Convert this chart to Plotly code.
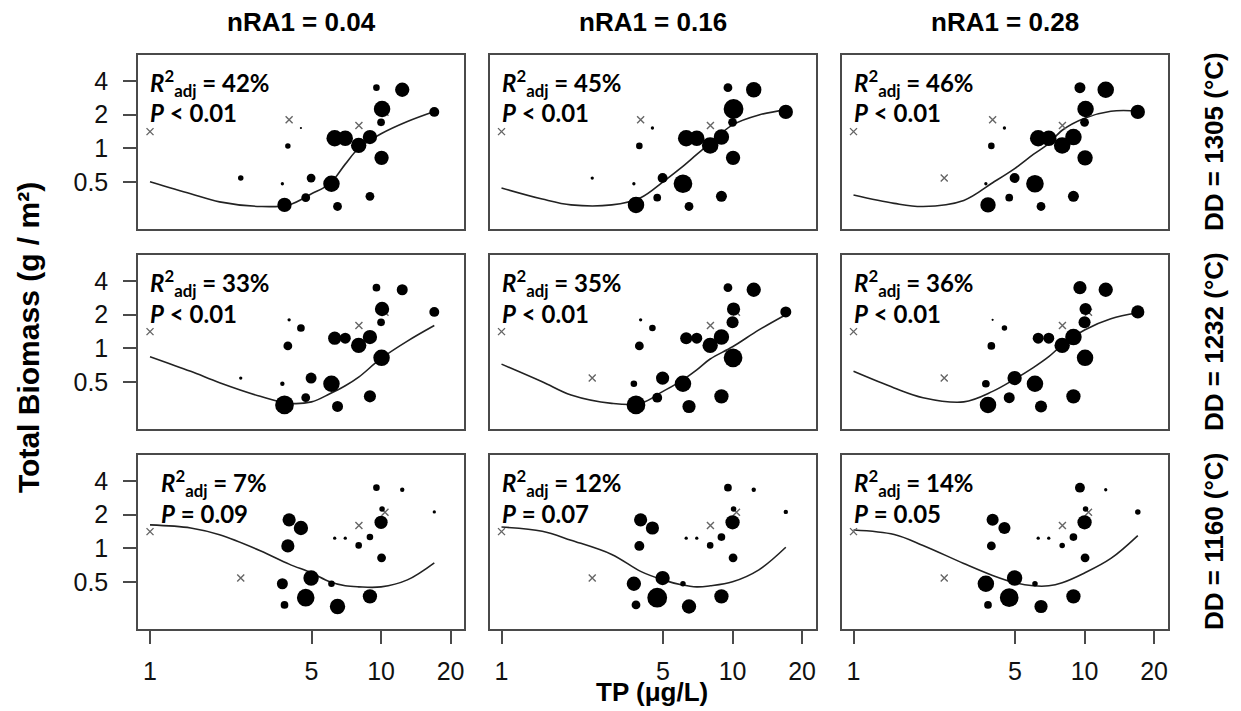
import plotly.graph_objects as go

# ---------------- data ----------------
COL_TITLES = ["nRA1 = 0.04", "nRA1 = 0.16", "nRA1 = 0.28"]
ROW_TITLES = ["DD = 1305 (°C)", "DD = 1232 (°C)", "DD = 1160 (°C)"]

TP = [1.0, 2.47, 4.0, 4.5, 3.95, 3.74, 3.82, 4.72, 4.98, 6.1, 6.48, 6.3,
      7.0, 8.0, 8.95, 8.02, 8.95, 9.55, 10.1, 10.0, 10.05, 12.35, 17.0, 10.4]
BIOMASS = [1.41, 0.54, 1.8, 1.52, 1.05, 0.48, 0.31, 0.36, 0.54, 0.48, 0.30, 1.23,
           1.23, 1.06, 1.26, 1.6, 0.37, 3.5, 2.25, 1.71, 0.82, 3.35, 2.12, 2.1]

# point weights per panel (0 = zero weight, drawn as a cross)
W_R1C1 = [0, 5, 0, 2, 5, 3, 13, 8, 8, 15, 8, 15, 14, 14, 13, 0, 8, 6, 15, 7, 13, 13, 9, 0]
W_R1C2 = [0, 3, 0, 3, 6, 3, 15, 7, 9, 17, 8, 15, 14, 15, 14, 0, 10, 8, 18, 8, 13, 14, 13, 0]
W_R1C3 = [0, 0, 0, 3, 6, 3, 14, 7, 9, 16, 8, 15, 14, 15, 15, 0, 10, 10, 15, 8, 14, 15, 13, 0]
W_R2C1 = [0, 3, 3, 7, 8, 4, 17, 8, 10, 15, 10, 12, 10, 14, 13, 0, 11, 7, 13, 7, 15, 10, 9, 0]
W_R2C2 = [0, 0, 3, 6, 8, 6, 17, 9, 12, 15, 12, 11, 10, 14, 14, 0, 13, 8, 12, 11, 17, 13, 10, 0]
W_R2C3 = [0, 0, 2, 5, 7, 7, 15, 10, 13, 15, 11, 10, 10, 14, 15, 0, 13, 12, 11, 11, 15, 13, 12, 0]
W_R3C1 = [0, 0, 12, 13, 12, 10, 7, 16, 14, 6, 14, 3, 3, 6, 6, 0, 13, 6, 5, 12, 8, 4, 3, 0]
W_R3C2 = [0, 0, 12, 12, 9, 13, 8, 18, 13, 5, 13, 3, 3, 6, 7, 0, 13, 7, 5, 13, 8, 4, 4, 0]
W_R3C3 = [0, 0, 11, 11, 8, 15, 7, 17, 14, 5, 12, 3, 3, 5, 7, 0, 13, 9, 5, 13, 8, 3, 5, 0]
WEIGHTS = [[W_R1C1, W_R1C2, W_R1C3], [W_R2C1, W_R2C2, W_R2C3], [W_R3C1, W_R3C2, W_R3C3]]

# fitted curves, read at these TP values
CURVE_TP = [1, 1.5, 2, 3, 4, 5, 6, 7, 8, 10, 13, 17]
C_R1C1 = [0.50, 0.39, 0.33, 0.30, 0.31, 0.39, 0.48, 0.72, 1.0, 1.35, 1.74, 2.14]
C_R1C2 = [0.44, 0.35, 0.31, 0.31, 0.36, 0.50, 0.67, 0.88, 1.11, 1.62, 1.99, 2.21]
C_R1C3 = [0.38, 0.32, 0.30, 0.34, 0.49, 0.66, 0.88, 1.1, 1.45, 1.86, 2.15, 2.16]
C_R2C1 = [0.84, 0.62, 0.49, 0.37, 0.32, 0.33, 0.39, 0.46, 0.55, 0.81, 1.16, 1.6]
C_R2C2 = [0.72, 0.50, 0.38, 0.32, 0.32, 0.41, 0.51, 0.64, 0.80, 1.03, 1.46, 2.0]
C_R2C3 = [0.62, 0.44, 0.36, 0.33, 0.41, 0.53, 0.67, 0.84, 1.07, 1.46, 1.84, 2.08]
C_R3C1 = [1.62, 1.52, 1.32, 0.95, 0.72, 0.60, 0.50, 0.46, 0.45, 0.45, 0.52, 0.74]
C_R3C2 = [1.55, 1.42, 1.18, 0.88, 0.62, 0.52, 0.47, 0.45, 0.46, 0.50, 0.64, 1.02]
C_R3C3 = [1.46, 1.33, 1.06, 0.73, 0.57, 0.49, 0.46, 0.46, 0.49, 0.60, 0.81, 1.30]
CURVES = [[C_R1C1, C_R1C2, C_R1C3], [C_R2C1, C_R2C2, C_R2C3], [C_R3C1, C_R3C2, C_R3C3]]

R2_ADJ = [["42%", "45%", "46%"], ["33%", "35%", "36%"], ["7%", "12%", "14%"]]
P_TEXT = [["< 0.01", "< 0.01", "< 0.01"], ["< 0.01", "< 0.01", "< 0.01"],
          ["= 0.09", "= 0.07", "= 0.05"]]

X_TICKS = [1, 5, 10, 20]
Y_TICKS = [0.5, 1, 2, 4]

# ---------------- layout geometry (pixels) ----------------
W, H = 1241, 711
COL_LEFT = [138, 489.5, 841.5]
PANEL_W = 326
ROW_TOP = [55, 255, 455]
PANEL_H = 174
X_RANGE = [-0.052, 1.359]
Y_RANGE = [-0.725, 0.837]
SIZE_SCALE = 1.1
TICK_FONT = dict(family="Liberation Sans, Arial, sans-serif", size=25, color="#111")
BOLD = "Liberation Sans, Arial, sans-serif"
BOX = "#4a4a4a"


def px(x):
    return x / W


def py(y):
    return 1 - y / H


fig = go.Figure()
layout = dict(width=W, height=H, margin=dict(l=0, r=0, t=0, b=0),
              paper_bgcolor="white", plot_bgcolor="white", showlegend=False)
annotations = []

for r in range(3):
    for c in range(3):
        k = r * 3 + c + 1
        xa = "x" if k == 1 else f"x{k}"
        ya = "y" if k == 1 else f"y{k}"
        xkey = "xaxis" if k == 1 else f"xaxis{k}"
        ykey = "yaxis" if k == 1 else f"yaxis{k}"
        x0 = COL_LEFT[c]
        y0 = ROW_TOP[r]
        layout[xkey] = dict(
            type="log", range=X_RANGE, domain=[px(x0), px(x0 + PANEL_W)],
            anchor=ya, showgrid=False, zeroline=False, automargin=False,
            showline=True, mirror=True, linecolor=BOX, linewidth=1.5,
            tickvals=X_TICKS, ticktext=[str(v) for v in X_TICKS],
            ticks="outside" if r == 2 else "", ticklen=13, tickwidth=1.5, tickcolor=BOX,
            showticklabels=(r == 2), tickfont=TICK_FONT, ticklabelstandoff=6)
        layout[ykey] = dict(
            type="log", range=Y_RANGE, domain=[py(y0 + PANEL_H), py(y0)],
            anchor=xa, showgrid=False, zeroline=False, automargin=False,
            showline=True, mirror=True, linecolor=BOX, linewidth=1.5,
            tickvals=Y_TICKS, ticktext=["0.5", "1", "2", "4"],
            ticks="outside" if c == 0 else "", ticklen=13, tickwidth=1.5, tickcolor=BOX,
            showticklabels=(c == 0), tickfont=TICK_FONT, ticklabelstandoff=10)

        wts = WEIGHTS[r][c]
        dx = [t for t, w in zip(TP, wts) if w > 0]
        dy = [b for b, w in zip(BIOMASS, wts) if w > 0]
        ds = [w * SIZE_SCALE for w in wts if w > 0]
        cx = [t for t, w in zip(TP, wts) if w == 0]
        cy = [b for b, w in zip(BIOMASS, wts) if w == 0]

        fig.add_trace(go.Scatter(x=CURVE_TP, y=CURVES[r][c], mode="lines",
                                 line=dict(color="#222", width=1.6, shape="spline"),
                                 xaxis=xa, yaxis=ya, hoverinfo="skip"))
        fig.add_trace(go.Scatter(x=cx, y=cy, mode="markers",
                                 marker=dict(symbol="x-thin", size=7, opacity=1,
                                             line=dict(color="#666", width=1.4)),
                                 xaxis=xa, yaxis=ya))
        fig.add_trace(go.Scatter(x=dx, y=dy, mode="markers",
                                 marker=dict(symbol="circle", size=ds, color="black",
                                             opacity=1, line=dict(width=0)),
                                 xaxis=xa, yaxis=ya))

        tx = x0 + (21 if (r == 2 and c == 0) else 10)
        annotations.append(dict(
            x=px(tx), y=py(y0 + 28), xref="paper", yref="paper",
            xanchor="left", yanchor="middle", showarrow=False,
            text=f"<b><i>R</i><sup>2</sup><sub>adj</sub> = {R2_ADJ[r][c]}</b>",
            font=dict(family="Lato, sans-serif", size=24, color="black")))
        annotations.append(dict(
            x=px(tx), y=py(y0 + 58), xref="paper", yref="paper",
            xanchor="left", yanchor="middle", showarrow=False,
            text=f"<b><i>P</i> {P_TEXT[r][c].replace('<', '&lt;')}</b>",
            font=dict(family="Lato, sans-serif", size=24, color="black")))

for c in range(3):
    annotations.append(dict(
        x=px(COL_LEFT[c] + PANEL_W / 2), y=py(22), xref="paper", yref="paper",
        xanchor="center", yanchor="middle", showarrow=False,
        text=f"<b>{COL_TITLES[c]}</b>", font=dict(family=BOLD, size=26, color="black")))

for r in range(3):
    annotations.append(dict(
        x=px(1214), y=py(ROW_TOP[r] + PANEL_H / 2), xref="paper", yref="paper",
        xanchor="center", yanchor="middle", showarrow=False, textangle=-90,
        text=f"<b>{ROW_TITLES[r]}</b>", font=dict(family=BOLD, size=26, color="black")))

annotations.append(dict(
    x=px(28), y=py(338), xref="paper", yref="paper",
    xanchor="center", yanchor="middle", showarrow=False, textangle=-90,
    text="<b>Total Biomass (g / m²)</b>", font=dict(family=BOLD, size=30, color="black")))
annotations.append(dict(
    x=px(652), y=py(692), xref="paper", yref="paper",
    xanchor="center", yanchor="middle", showarrow=False,
    text="<b>TP (μg/L)</b>", font=dict(family=BOLD, size=26, color="black")))

layout["annotations"] = annotations
fig.update_layout(**layout)
fig.write_html("out.html",
               config={"displayModeBar": False},
               post_script="document.body.style.margin='0';"
                           "document.body.style.overflow='hidden';")
